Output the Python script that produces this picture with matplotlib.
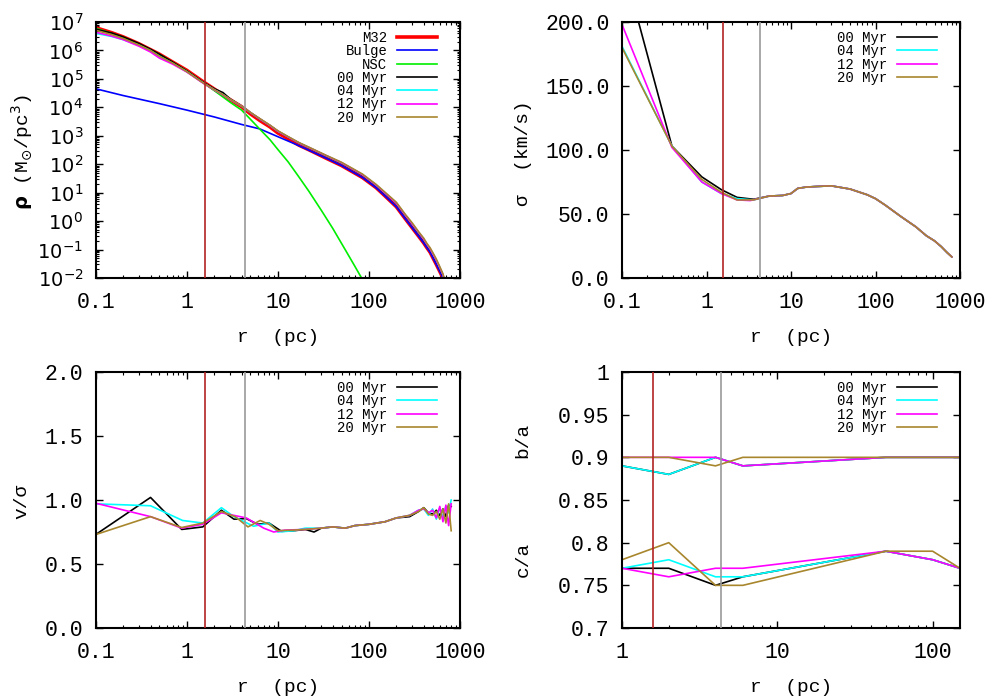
import math
import matplotlib
matplotlib.use("Agg")
import matplotlib.pyplot as plt
from matplotlib.ticker import LogLocator, NullFormatter, FixedLocator, FuncFormatter
from matplotlib.transforms import blended_transform_factory

plt.rcParams.update({
    "font.family": ["Liberation Mono", "DejaVu Sans"],
    "xtick.direction": "in", "ytick.direction": "in",
    "xtick.top": True, "ytick.right": True,
    "xtick.major.size": 5, "ytick.major.size": 5,
    "xtick.minor.size": 2.5, "ytick.minor.size": 2.5,
    "xtick.major.width": 1.0, "ytick.major.width": 1.0,
    "xtick.minor.width": 0.8, "ytick.minor.width": 0.8,
    "xtick.major.pad": 10, "ytick.major.pad": 9,
    "axes.linewidth": 1.5,
})

SIMS = ["00 Myr", "04 Myr", "12 Myr", "20 Myr"]
SIM_COLORS = ["black", "#00ffff", "#ff00ff", "#a8862d"]
R_CORE = 1.58
R_HALF = 4.35

# ---- density profile (top left)
r_m32 = [0.1, 0.15, 0.2, 0.3, 0.5, 0.7, 1, 1.5, 2, 3, 4, 5, 6.35, 8.2, 10, 13, 17, 22,
         34, 50, 85, 120, 150, 200, 250, 300, 350, 400, 430, 470, 510, 550, 600, 650]
rho_m32 = [6.3e6, 4.2e6, 3.0e6, 1.7e6, 7.4e5, 3.9e5, 2.0e5, 8.1e4, 4.4e4, 1.85e4, 1.05e4,
           5.9e3, 3.45e3, 2.05e3, 1.26e3, 780, 470, 320, 162, 90, 34, 15, 7.7, 3.2, 1.23,
           0.57, 0.3, 0.17, 0.12, 0.08, 0.048, 0.03, 0.017, 0.01]
r_bulge = [0.1, 0.2, 0.5, 1, 2, 4, 6.35, 10, 14.8, 20, 34, 50, 85, 120, 150, 200, 250,
           300, 350, 400, 430, 470, 510, 550, 600, 650]
rho_bulge = [4.5e4, 2.6e4, 1.35e4, 8.0e3, 4.6e3, 2.5e3, 1.74e3, 930, 545, 355, 162, 90,
             34, 15, 7.7, 3.2, 1.23, 0.57, 0.3, 0.17, 0.12, 0.08, 0.048, 0.03, 0.017, 0.01]
r_nsc = [0.1, 0.15, 0.2, 0.3, 0.5, 0.7, 1, 1.5, 2, 3, 4, 5, 6.35, 8.2, 10, 13, 17, 22,
         30, 40, 55, 70, 83, 90]
rho_nsc = [6.0e6, 4.0e6, 2.9e6, 1.65e6, 7.2e5, 3.8e5, 1.9e5, 7.5e4, 3.9e4, 1.5e4, 8.0e3,
           3.8e3, 1.7e3, 725, 330, 120, 36, 11, 2.4, 0.56, 0.098, 0.026, 0.01, 0.005]
r_sim = [0.1, 0.15, 0.2, 0.3, 0.4, 0.5, 0.7, 1.0, 1.5, 2.0, 2.5, 3.0, 4.0, 5.0, 6.35, 8.2,
         10, 13, 17, 22, 34, 50, 85, 120, 150, 200, 250, 300, 350, 400, 430, 470, 510,
         550, 600, 650, 700]
rho_00 = [5.6e6, 4.1e6, 3.0e6, 1.75e6, 1.1e6, 7.4e5, 3.9e5, 1.9e5, 7.8e4, 4.5e4, 3.3e4,
          1.95e4, 1.1e4, 6.5e3, 3.9e3, 2.3e3, 1.45e3, 900, 560, 380, 195, 110, 42, 18,
          9.5, 4.2, 1.6, 0.75, 0.39, 0.22, 0.155, 0.1, 0.063, 0.04, 0.022, 0.012, 0.005]
rho_04 = [4.0e6, 3.1e6, 2.4e6, 1.5e6, 9.8e5, 6.2e5, 3.5e5, 1.8e5, 7.4e4, 4.2e4, 2.8e4,
          1.9e4, 1.1e4, 6.6e3, 3.9e3, 2.3e3, 1.45e3, 910, 565, 385, 198, 112, 43, 18.5,
          9.8, 4.3, 1.65, 0.78, 0.40, 0.23, 0.16, 0.105, 0.066, 0.042, 0.023, 0.013, 0.005]
rho_12 = [4.4e6, 3.2e6, 2.4e6, 1.4e6, 8.8e5, 5.4e5, 3.3e5, 1.75e5, 7.2e4, 4.1e4, 2.7e4,
          1.85e4, 1.1e4, 6.5e3, 3.9e3, 2.3e3, 1.45e3, 900, 565, 385, 200, 113, 43, 18.5,
          9.8, 4.3, 1.65, 0.78, 0.41, 0.23, 0.16, 0.105, 0.066, 0.042, 0.023, 0.013, 0.005]
rho_20 = [5.1e6, 3.6e6, 2.65e6, 1.55e6, 1.0e6, 6.3e5, 3.6e5, 1.8e5, 7.4e4, 4.2e4, 2.8e4,
          1.9e4, 1.1e4, 6.6e3, 4.0e3, 2.35e3, 1.5e3, 930, 580, 395, 205, 117, 45, 19.5,
          10.4, 4.6, 1.75, 0.85, 0.43, 0.25, 0.17, 0.115, 0.072, 0.046, 0.025, 0.014, 0.006]

# ---- velocity dispersion (top right)
r_sig_in = {
    "00 Myr": [0.1, 0.39, 0.88, 1.5, 2.3, 3.6],
    "04 Myr": [0.1, 0.39, 0.88, 1.5, 2.3, 3.6],
    "12 Myr": [0.1, 0.39, 0.88, 1.5, 2.3, 3.3],
    "20 Myr": [0.1, 0.39, 0.88, 1.5, 2.3, 3.6],
}
sig_in = {
    "00 Myr": [248, 103, 79, 69, 63, 61.5],
    "04 Myr": [181, 103, 75, 66, 62, 61],
    "12 Myr": [198, 102, 75, 66, 61, 60.5],
    "20 Myr": [180, 103, 77, 67, 61, 61],
}
r_sig_out = [5.5, 8, 10, 12, 15, 20, 30, 50, 80, 100, 130, 200, 300, 400, 500, 600, 700, 800]
sig_out = [64, 64.5, 66, 70, 71, 71.5, 72, 69.5, 65, 62, 57, 48, 40, 33, 29, 24.5, 20, 16.5]

# ---- v/sigma (bottom left)
r_vs_in = {
    "00 Myr": [0.1, 0.40, 0.88, 1.5, 2.4, 3.3, 4.5, 6, 8, 11, 15, 20, 25, 30],
    "04 Myr": [0.1, 0.40, 0.9, 1.5, 2.4, 3.3, 5.4, 8, 10, 15, 20, 30],
    "12 Myr": [0.1, 0.40, 0.88, 1.5, 2.4, 4.5, 7, 9, 12, 20, 30],
    "20 Myr": [0.1, 0.40, 0.88, 1.5, 2.4, 3.4, 4.7, 6.4, 8, 10, 15, 20, 30],
}
vs_in = {
    "00 Myr": [0.73, 1.02, 0.77, 0.79, 0.92, 0.85, 0.855, 0.81, 0.82, 0.755, 0.76, 0.77, 0.75, 0.78],
    "04 Myr": [0.97, 0.955, 0.84, 0.82, 0.94, 0.87, 0.795, 0.82, 0.75, 0.76, 0.78, 0.78],
    "12 Myr": [0.975, 0.87, 0.78, 0.81, 0.90, 0.86, 0.78, 0.75, 0.765, 0.77, 0.78],
    "20 Myr": [0.73, 0.87, 0.785, 0.82, 0.91, 0.87, 0.79, 0.84, 0.81, 0.76, 0.765, 0.77, 0.78],
}
r_vs_out = [40, 55, 70, 100, 150, 200, 280, 350, 400, 450, 500, 550, 600, 650, 700, 750, 800]
vs_out = {
    "00 Myr": [0.79, 0.78, 0.80, 0.81, 0.83, 0.86, 0.87, 0.91, 0.94, 0.90, 0.89, 0.92, 0.88, 0.93, 0.87, 0.96, 0.95],
    "04 Myr": [0.79, 0.78, 0.80, 0.81, 0.83, 0.86, 0.88, 0.92, 0.93, 0.88, 0.93, 0.85, 0.94, 0.86, 0.95, 0.90, 1.00],
    "12 Myr": [0.79, 0.78, 0.80, 0.81, 0.83, 0.86, 0.88, 0.92, 0.93, 0.90, 0.92, 0.86, 0.95, 0.83, 0.96, 0.80, 0.97],
    "20 Myr": [0.79, 0.78, 0.80, 0.81, 0.83, 0.86, 0.88, 0.91, 0.94, 0.89, 0.88, 0.91, 0.85, 0.93, 0.82, 0.97, 0.76],
}

# ---- axis ratios (bottom right)
r_shape = [1, 2, 4, 6, 50, 100, 150]
ba = {
    "00 Myr": [0.89, 0.88, 0.90, 0.89, 0.90, 0.90, 0.90],
    "04 Myr": [0.89, 0.88, 0.90, 0.89, 0.90, 0.90, 0.90],
    "12 Myr": [0.90, 0.90, 0.90, 0.89, 0.90, 0.90, 0.90],
    "20 Myr": [0.90, 0.90, 0.89, 0.90, 0.90, 0.90, 0.90],
}
ca = {
    "00 Myr": [0.77, 0.77, 0.75, 0.76, 0.79, 0.78, 0.77],
    "04 Myr": [0.77, 0.78, 0.76, 0.76, 0.79, 0.78, 0.77],
    "12 Myr": [0.77, 0.76, 0.77, 0.77, 0.79, 0.78, 0.77],
    "20 Myr": [0.78, 0.80, 0.75, 0.75, 0.79, 0.79, 0.77],
}

W, H = 1000, 700
fig = plt.figure(figsize=(10, 7), dpi=100)


def add_axes(x0, y0, x1, y1):
    return fig.add_axes([x0 / W, 1 - y1 / H, (x1 - x0) / W, (y1 - y0) / H])


def log_x(ax, lo, hi, ticks):
    ax.set_xscale("log")
    ax.set_xlim(lo, hi)
    ax.xaxis.set_major_locator(FixedLocator(ticks))
    ax.xaxis.set_major_formatter(FuncFormatter(lambda v, p: f"{v:g}"))
    ax.xaxis.set_minor_locator(LogLocator(base=10, subs=range(2, 10), numticks=20))
    ax.xaxis.set_minor_formatter(NullFormatter())
    ax.tick_params(axis="both", which="major", labelsize=15.5)


def marks(ax):
    ax.axvline(R_CORE, color="#b22222", lw=1.2, zorder=3)
    ax.axvline(R_HALF, color="#999999", lw=1.2, zorder=3)


def legend(ax, xr):
    ax.legend(loc="upper right", bbox_to_anchor=(xr, 0.965), frameon=False,
              markerfirst=False, handlelength=2.9, handletextpad=0.7,
              labelspacing=-0.05, borderpad=0, borderaxespad=0, fontsize=10)


LW = 1.2

# top left
ax1 = add_axes(95.7, 22, 460, 278)
ax1.plot(r_m32, rho_m32, color="red", lw=2.6, label="M32")
ax1.plot(r_bulge, rho_bulge, color="#0000ff", lw=LW, label="Bulge")
ax1.plot(r_nsc, rho_nsc, color="#00ee00", lw=LW, label="NSC")
for name, col, rho in zip(SIMS, SIM_COLORS, [rho_00, rho_04, rho_12, rho_20]):
    ax1.plot(r_sim, rho, color=col, lw=LW, label=name)
log_x(ax1, 0.1, 1000, [0.1, 1, 10, 100, 1000])
ax1.set_yscale("log")
ax1.set_ylim(1e-2, 1e7)
ax1.yaxis.set_major_locator(FixedLocator([10.0 ** k for k in range(-2, 8)]))
ax1.yaxis.set_major_formatter(FuncFormatter(lambda v, p: rf"$10^{{{round(math.log10(v))}}}$"))
ax1.yaxis.set_minor_locator(LogLocator(base=10, subs=range(2, 10), numticks=20))
ax1.yaxis.set_minor_formatter(NullFormatter())
ax1.tick_params(axis="y", which="major", labelsize=14)
marks(ax1)
legend(ax1, 0.9376)

# top right
ax2 = add_axes(622, 22, 960, 278)
for name, col in zip(SIMS, SIM_COLORS):
    ax2.plot(r_sig_in[name] + r_sig_out, sig_in[name] + sig_out, color=col, lw=LW, label=name)
log_x(ax2, 0.1, 1000, [0.1, 1, 10, 100, 1000])
ax2.set_ylim(0, 200)
ax2.set_yticks([0, 50, 100, 150, 200])
ax2.yaxis.set_major_formatter(FuncFormatter(lambda v, p: f"{v:.1f}"))
marks(ax2)
legend(ax2, 0.932)

# bottom left
ax3 = add_axes(95.7, 372, 460, 628)
for name, col in zip(SIMS, SIM_COLORS):
    ax3.plot(r_vs_in[name] + r_vs_out, vs_in[name] + vs_out[name], color=col, lw=LW, label=name)
log_x(ax3, 0.1, 1000, [0.1, 1, 10, 100, 1000])
ax3.set_ylim(0, 2)
ax3.set_yticks([0, 0.5, 1.0, 1.5, 2.0])
ax3.yaxis.set_major_formatter(FuncFormatter(lambda v, p: f"{v:.1f}"))
marks(ax3)
legend(ax3, 0.9376)

# bottom right
ax4 = add_axes(622, 372, 960, 628)
for name, col in zip(SIMS, SIM_COLORS):
    ax4.plot(r_shape, ba[name], color=col, lw=LW, label=name)
for name, col in zip(SIMS, SIM_COLORS):
    ax4.plot(r_shape, ca[name], color=col, lw=LW)
log_x(ax4, 1, 150, [1, 10, 100])
ax4.set_ylim(0.7, 1.0)
ax4.set_yticks([0.7, 0.75, 0.8, 0.85, 0.9, 0.95, 1.0])
ax4.yaxis.set_major_formatter(FuncFormatter(lambda v, p: f"{round(v, 2):g}"))
marks(ax4)
legend(ax4, 0.932)
tr = blended_transform_factory(fig.transFigure, ax4.transData)
ax4.text(523 / W, 0.92, "b/a", transform=tr, rotation=90, ha="center", va="center", fontsize=14)
ax4.text(523 / W, 0.78, "c/a", transform=tr, rotation=90, ha="center", va="center", fontsize=14)

# axis labels
for cx, cy in [(278, 337), (791, 337), (278, 687), (791, 687)]:
    fig.text(cx / W, 1 - cy / H, "r  (pc)", ha="center", va="center", fontsize=14)
fig.text(22 / W, 1 - 152 / H, r"$\mathbf{\rho}$ (M$_{\odot}$/pc$^{3}$)", rotation=90,
         ha="center", va="center", fontsize=14)
fig.text(523 / W, 1 - 153 / H, "σ  (km/s)", rotation=90, ha="center", va="center", fontsize=14)
fig.text(22 / W, 1 - 501 / H, "v/σ", rotation=90, ha="center", va="center", fontsize=14)

fig.savefig("out.png", dpi=100)
